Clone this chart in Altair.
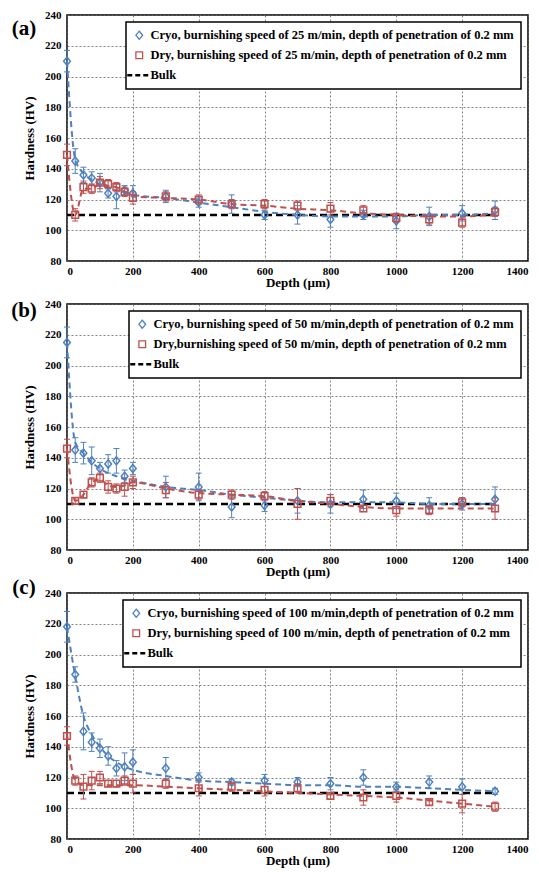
import altair as alt
import pandas as pd

# ---------------- data ----------------
depths = [0, 25, 50, 75, 100, 125, 150, 175, 200, 300, 400, 500, 600, 700, 800, 900, 1000, 1100, 1200, 1300]
bulk_hv = 110
bulk_depths = [0, 1300]

# (a) 25 m/min
cryo_a = [210, 145, 136, 134, 131, 124, 122, 126, 124, 122, 118, 117, 110, 110, 107, 110, 106, 109, 111, 113]
cryo_a_err = [7, 8, 5, 4, 6, 3, 8, 3, 5, 4, 3, 6, 3, 6, 5, 3, 5, 6, 5, 6]
cryo_a_fit = [210, 146, 137, 133, 130, 128, 126, 125, 123, 121, 118, 115, 112, 110, 109, 109, 109, 110, 110, 111]
dry_a = [149, 110, 128, 127, 131, 130, 128, 125, 121, 122, 120, 117, 117, 116, 114, 113, 108, 107, 105, 112]
dry_a_err = [7, 4, 4, 3, 4, 3, 3, 3, 4, 3, 3, 3, 3, 3, 4, 3, 3, 3, 3, 3]
dry_a_fit = [149, 110, 127, 127, 130, 129, 128, 125, 122, 121, 120, 117, 116, 114, 113, 111, 110, 109, 109, 110]

# (b) 50 m/min
cryo_b = [215, 145, 143, 138, 133, 136, 138, 128, 133, 121, 121, 108, 109, 112, 110, 113, 112, 109, 110, 113]
cryo_b_err = [10, 8, 7, 9, 4, 6, 8, 4, 4, 7, 9, 7, 4, 8, 6, 6, 5, 5, 4, 8]
cryo_b_fit = [215, 150, 143, 137, 133, 130, 128, 126, 125, 121, 119, 116, 114, 112, 111, 111, 111, 110, 110, 110]
dry_b = [146, 112, 116, 124, 127, 121, 120, 121, 124, 119, 116, 116, 115, 110, 112, 107, 106, 106, 111, 107]
dry_b_err = [6, 2, 2, 3, 3, 4, 3, 6, 4, 5, 3, 3, 3, 10, 4, 2, 4, 3, 3, 7]
dry_b_fit = [146, 112, 116, 124, 126, 122, 121, 122, 124, 120, 117, 116, 115, 112, 110, 108, 107, 107, 107, 107]

# (c) 100 m/min
cryo_c = [218, 187, 150, 143, 139, 134, 126, 127, 130, 126, 120, 117, 118, 117, 116, 120, 114, 117, 114, 111]
cryo_c_err = [10, 5, 12, 6, 6, 6, 5, 9, 8, 7, 3, 2, 4, 3, 4, 5, 3, 4, 5, 2]
cryo_c_fit = [218, 186, 160, 148, 140, 134, 130, 127, 125, 121, 118, 117, 116, 115, 115, 114, 114, 113, 112, 111]
dry_c = [147, 118, 114, 118, 120, 116, 116, 118, 116, 116, 113, 114, 112, 113, 108, 107, 108, 104, 103, 101]
dry_c_err = [6, 3, 8, 6, 4, 2, 2, 3, 6, 3, 5, 3, 4, 3, 2, 5, 4, 2, 6, 3]
dry_c_fit = [148, 118, 115, 115, 115, 115, 115, 115, 115, 114, 113, 112, 111, 110, 109, 108, 107, 105, 103, 101]

labels_a = ["Cryo, burnishing speed of 25 m/min, depth of penetration of 0.2 mm",
            "Dry, burnishing speed of 25 m/min, depth of penetration of 0.2 mm"]
labels_b = ["Cryo, burnishing speed of 50 m/min,depth of penetration of 0.2 mm",
            "Dry,burnishing speed of 50 m/min, depth of penetration of 0.2 mm"]
labels_c = ["Cryo, burnishing speed of 100 m/min,depth of penetration of 0.2 mm",
            "Dry, burnishing speed of 100 m/min, depth of penetration of 0.2 mm"]
bulk_label = "Bulk"

x_ticks = [0, 200, 400, 600, 800, 1000, 1200, 1400]
y_ticks = [80, 100, 120, 140, 160, 180, 200, 220, 240]

BLUE = "#4F81BD"
RED = "#C0504D"
FONT = "Liberation Serif"
W, H = 461, 246
SYM = 576  # symbol size (sqrt = 24 px unit)
DIAMOND = "M0,-0.34L0.28,0L0,0.34L-0.28,0Z"
SQUARE = "M-0.28,-0.28L0.28,-0.28L0.28,0.28L-0.28,0.28Z"
DASHLINE = "M-1,0L1,0"

X_SCALE = alt.Scale(domain=[0, 1400], nice=False)
Y_SCALE = alt.Scale(domain=[80, 240], nice=False)
X_AXIS = alt.Axis(values=x_ticks, format="d", title="Depth (µm)")
Y_AXIS = alt.Axis(values=y_ticks, format="d", title="Hardness (HV)")


def panel(letter, labels, cryo, cryo_err, cryo_fit, dry, dry_err, dry_fit, label_dy):
    rows = []
    for lab, vals, errs, fits in [(labels[0], cryo, cryo_err, cryo_fit), (labels[1], dry, dry_err, dry_fit)]:
        for d, v, e, f in zip(depths, vals, errs, fits):
            rows.append(dict(depth=d, hv=v, lo=v - e, hi=v + e, fit=f, series=lab))
    df = pd.DataFrame(rows)
    bulk_df = pd.DataFrame({"depth": bulk_depths, "hv": [bulk_hv, bulk_hv], "series": [bulk_label, bulk_label]})

    domain = [labels[0], labels[1], bulk_label]
    cscale = alt.Scale(domain=domain, range=[BLUE, RED, "black"])
    leg = alt.Legend(
        title=None, orient="top-right", offset=7,
        symbolFillColor="transparent",
        symbolDash={"expr": "datum.value === 'Bulk' ? [5, 3] : [1, 0]"},
        symbolStrokeWidth={"expr": "datum.value === 'Bulk' ? 2.5 : 1.3"},
    )
    color = alt.Color("series:N", scale=cscale, legend=leg)
    shape = alt.Shape("series:N", scale=alt.Scale(domain=domain, range=[DIAMOND, SQUARE, DASHLINE]), legend=leg)
    x = alt.X("depth:Q", scale=X_SCALE, axis=X_AXIS)

    def Y(f):
        return alt.Y(f, scale=Y_SCALE, axis=Y_AXIS)

    base = alt.Chart(df)
    bulk = alt.Chart(bulk_df).mark_line(strokeDash=[7, 4], strokeWidth=2.5).encode(
        x=x, y=Y("hv:Q"), color=color)
    fit = base.mark_line(strokeDash=[6, 4], strokeWidth=2, interpolate="monotone").encode(
        x=x, y=Y("fit:Q"), color=color)
    err = base.mark_rule(strokeWidth=1).encode(x=x, y=Y("lo:Q"), y2="hi:Q", color=color)
    cap_lo = base.mark_point(shape="stroke", filled=False, size=36, strokeWidth=1, opacity=1).encode(
        x=x, y=Y("lo:Q"), color=color)
    cap_hi = base.mark_point(shape="stroke", filled=False, size=36, strokeWidth=1, opacity=1).encode(
        x=x, y=Y("hi:Q"), color=color)
    pts = base.mark_point(filled=False, size=SYM, strokeWidth=1.5, opacity=1).encode(
        x=x, y=Y("hv:Q"), color=color, shape=shape)
    lab = alt.Chart(pd.DataFrame({"t": [letter]})).mark_text(
        font=FONT, fontWeight="bold", fontSize=21, align="center", baseline="middle", color="black"
    ).encode(text="t:N", x=alt.value(-43), y=alt.value(label_dy))

    return alt.layer(bulk, fit, err, cap_lo, cap_hi, pts, lab).properties(width=W, height=H)


pa = panel("(a)", labels_a, cryo_a, cryo_a_err, cryo_a_fit, dry_a, dry_a_err, dry_a_fit, 14)
pb = panel("(b)", labels_b, cryo_b, cryo_b_err, cryo_b_fit, dry_b, dry_b_err, dry_b_fit, 7)
pc = panel("(c)", labels_c, cryo_c, cryo_c_err, cryo_c_fit, dry_c, dry_c_err, dry_c_fit, -5)

chart = alt.vconcat(pa, pb, pc, spacing=43, bounds="flush").resolve_scale(
    color="independent", shape="independent"
).resolve_legend(color="independent", shape="independent").properties(
    padding={"left": 2, "top": 0, "right": 2, "bottom": 2}
).configure_view(
    stroke="black", strokeWidth=1.5
).configure_axis(
    labelFont=FONT, labelFontWeight="bold", labelFontSize=11, labelColor="black",
    titleFont=FONT, titleFontWeight="bold", titleFontSize=13, titleColor="black",
    grid=True, gridColor="#666", gridDash=[2, 2], gridWidth=0.8,
    domain=False, ticks=False, labelOverlap=False,
).configure_axisX(titlePadding=0, labelPadding=4).configure_axisY(titlePadding=8, labelPadding=6).configure_legend(
    labelFont=FONT, labelFontWeight="bold", labelFontSize=12.5, labelColor="black",
    strokeColor="black", strokeWidth=1.5, fillColor="white", padding=7,
    rowPadding=7, labelLimit=500, symbolSize=SYM, labelOffset=5,
)

chart.save("out.html", embed_options={"renderer": "svg", "actions": False})
